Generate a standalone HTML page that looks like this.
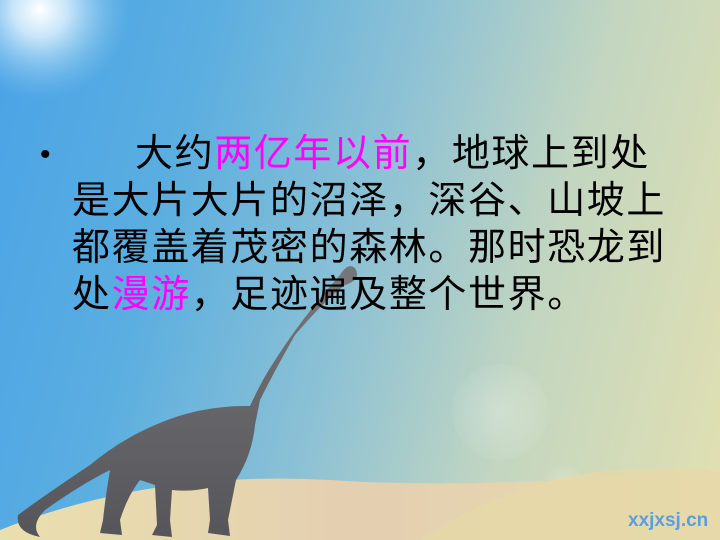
<!DOCTYPE html>
<html><head><meta charset="utf-8"><style>
html,body{margin:0;padding:0}
body{width:720px;height:540px;overflow:hidden;position:relative;
background:linear-gradient(105deg,#4aa3e6 0%,#5aaee0 25%,#8ec2d4 50%,#c3d6c0 72%,#e2e0b0 100%);}
.txt{position:absolute;left:72px;top:131px;font-family:"Liberation Sans","Noto Sans CJK SC",sans-serif;font-size:38px;line-height:47px;color:#000;white-space:nowrap;letter-spacing:1.6px}
.pk{color:#ff00ff}
</style></head><body>
<svg width="720" height="540" style="position:absolute;left:0;top:0">
<defs>
<radialGradient id="sun" cx="0.5" cy="0.5" r="0.5"><stop offset="0" stop-color="#fff" stop-opacity="1"/><stop offset="0.3" stop-color="#e8f6ff" stop-opacity="0.8"/><stop offset="1" stop-color="#8cc8f0" stop-opacity="0"/></radialGradient>
<radialGradient id="orb" cx="0.5" cy="0.5" r="0.5"><stop offset="0" stop-color="#fff" stop-opacity="0.25"/><stop offset="1" stop-color="#fff" stop-opacity="0.05"/></radialGradient>
<linearGradient id="dune" x1="0" x2="1"><stop offset="0" stop-color="#eadfae"/><stop offset="0.5" stop-color="#e4cfb0"/><stop offset="1" stop-color="#e8dcae"/></linearGradient>
<linearGradient id="dino" x1="0" x2="0" y1="0" y2="1"><stop offset="0" stop-color="#77777b"/><stop offset="1" stop-color="#55555a"/></linearGradient>
</defs>
<circle cx="40" cy="10" r="90" fill="url(#sun)"/>
<circle cx="500" cy="412" r="48" fill="url(#orb)"/>
<circle cx="565" cy="486" r="20" fill="url(#orb)"/>
<path d="M0 530 Q150 470 330 480 Q470 490 720 470 L720 540 L0 540Z" fill="url(#dune)"/>
<path d="M420 540 Q520 475 620 470 Q680 468 720 472 L720 540Z" fill="#e6d8a8" opacity="0.8"/>
<g fill="url(#dino)">
<path d="M355 268 Q348 262 340 275 Q300 320 272 365 Q262 380 250 406 Q200 405 155 425 Q120 440 90 465 Q45 495 18 515 Q15 532 40 537 Q30 525 45 510 Q80 485 110 470 Q105 500 103 520 L100 533 L122 535 L120 520 Q128 495 140 480 L155 485 L157 525 L152 535 L172 537 L170 520 L172 490 Q190 492 208 488 L210 520 L208 533 L230 536 L228 520 L236 480 Q252 455 255 425 L260 400 Q275 370 295 335 Q325 300 345 285 Q362 280 355 268Z"/>
</g>
<text x="628" y="526" font-family="Liberation Sans,sans-serif" font-size="19" font-weight="bold" fill="#5b9ee0">xxjxsj.cn</text>
</svg>
<div style="position:absolute;left:40px;top:131px;font-family:'Liberation Sans',sans-serif;font-size:30px;line-height:47px">•</div>
<div class="txt">
<div style="padding-left:63px">大约<span class="pk">两亿年以前</span>，地球上到处</div>
<div>是大片大片的沼泽，深谷、山坡上</div>
<div>都覆盖着茂密的森林。那时恐龙到</div>
<div>处<span class="pk">漫游</span>，足迹遍及整个世界。</div>
</div>
</body></html>
